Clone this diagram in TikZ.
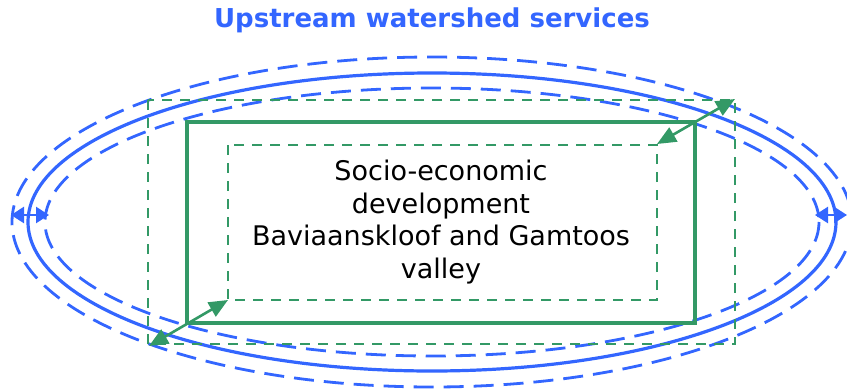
\documentclass[tikz,border=0pt]{standalone}
\usepackage{fontspec}
\setmainfont{DejaVu Sans}
\usetikzlibrary{arrows.meta}
\definecolor{wblue}{RGB}{51,102,255}
\definecolor{wgreen}{RGB}{51,153,102}
\tikzset{
  bsolid/.style={draw=wblue, line width=3.2pt},
  bdash/.style={draw=wblue, line width=2.8pt, dash pattern=on 20pt off 10pt},
  gsolid/.style={draw=wgreen, line width=3.2pt},
  gdash/.style={draw=wgreen, line width=2.4pt, dash pattern=on 10pt off 8pt},
  barrow/.style={draw=wblue, line width=2.6pt, {Triangle[length=13pt,width=16pt]}-{Triangle[length=13pt,width=16pt]}},
  garrow/.style={draw=wgreen, line width=2.6pt, {Triangle[length=19pt,width=16pt]}-{Triangle[length=19pt,width=16pt]}},
}
\begin{document}
\begin{tikzpicture}[x=1pt,y=-1pt]
\useasboundingbox (0,0) rectangle (847,389);
% title
\node[text=wblue, font=\bfseries\fontsize{26}{30}\selectfont] (title) at (432,20) {Upstream watershed services};
% ellipses
\draw[bdash] (432,222) ellipse [x radius=420, y radius=165];
\draw[bsolid] (432,222) ellipse [x radius=404, y radius=149];
\draw[bdash] (432,222) ellipse [x radius=387, y radius=134];
% rectangles
\draw[gdash] (148,100) rectangle (735,344);
\draw[gsolid] (187,122) rectangle (695,323);
\draw[gdash] (228,145) rectangle (657,300);
% text
\node[align=center, font=\fontsize{27}{32.5}\selectfont] (txt) at (441,222) {Socio-economic\\development\\Baviaanskloof and Gamtoos\\valley};
% arrows
\coordinate (l1) at (11,215);
\coordinate (l2) at (49,215);
\coordinate (r1) at (815,215);
\coordinate (r2) at (847,215);
\coordinate (g1) at (149,346);
\coordinate (g2) at (228,300);
\coordinate (g3) at (657,144);
\coordinate (g4) at (735,99);
\draw[barrow] (l1) -- (l2);
\draw[barrow] (r1) -- (r2);
\draw[garrow] (g1) -- (g2);
\draw[garrow] (g3) -- (g4);
\end{tikzpicture}
\end{document}
